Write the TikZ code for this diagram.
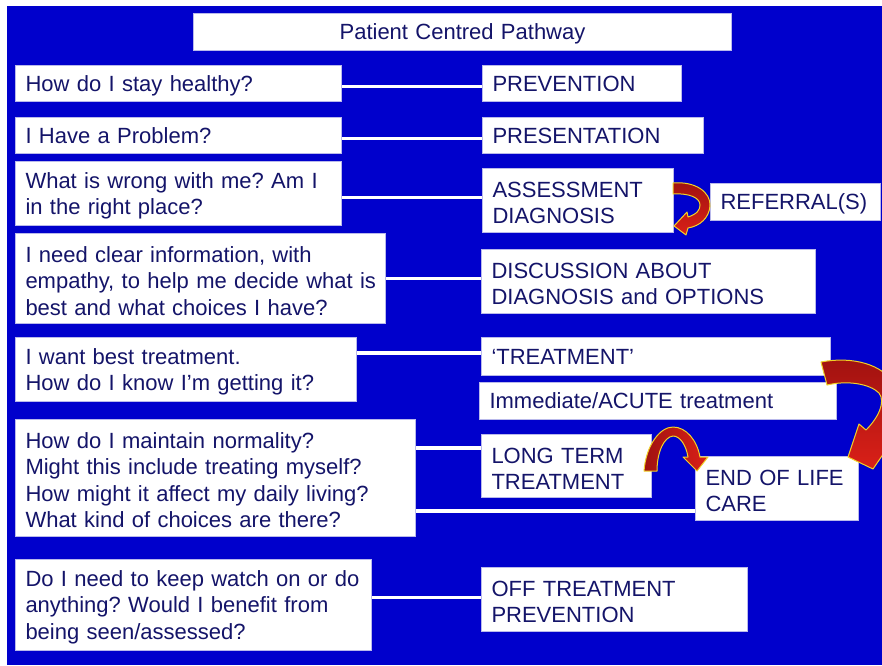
\documentclass[tikz,border=0pt]{standalone}
\usepackage{fontspec}
\setmainfont{Liberation Sans}
\frenchspacing
\definecolor{bgblue}{RGB}{0,0,204}
\definecolor{txt}{RGB}{20,20,105}
\definecolor{boxline}{RGB}{185,185,235}
\definecolor{ardark}{RGB}{160,18,16}
\definecolor{arlight}{RGB}{218,32,24}
\definecolor{aredge}{RGB}{240,210,40}
\newcommand\lowr{\rule{0pt}{20.5pt}}
\begin{document}
\begin{tikzpicture}[x=1pt,y=-1pt,
  box/.style={draw=boxline, line width=1pt, fill=white, text=txt,
    font=\fontsize{22}{26.5}\selectfont\frenchspacing, anchor=north west, align=left,
    inner xsep=10pt, inner ysep=2pt},
  one/.style={box, text depth=0pt},
  conn/.style={draw=white, line width=3.5pt},
  bigarrow/.style={draw=aredge, line width=1pt, line join=round}]
\useasboundingbox (0,0) rectangle (882,665);
\clip (0,0) rectangle (882,665);
\fill[bgblue] (7,6) rectangle (882,665);

% title
\node[one, align=center, text width=518pt, minimum height=37pt] (title) at (193,13) {Patient Centred Pathway};

% question boxes
\node[one, text width=306pt, minimum height=36pt] (q1) at (15,65) {How do I stay healthy?};
\node[one, text width=306pt, minimum height=36pt] (q2) at (15,117) {I Have a Problem?};
\node[box, text width=306pt, minimum height=64pt] (q3) at (15,161) {\lowr\mbox{What is wrong with me? Am I}\\\mbox{in the right place?}};
\node[box, text width=350pt, minimum height=90pt] (q4) at (15,233) {\lowr\mbox{I need clear information, with}\\\mbox{empathy, to help me decide what is}\\\mbox{best and what choices I have?}};
\node[box, text width=321pt, minimum height=64pt] (q5) at (15,337) {\lowr\mbox{I want best treatment.}\\\mbox{How do I know I'm getting it?}};
\node[box, text width=380pt, minimum height=117pt] (q6) at (15,419) {\lowr\mbox{How do I maintain normality?}\\\mbox{Might this include treating myself?}\\\mbox{How might it affect my daily living?}\\\mbox{What kind of choices are there?}};
\node[box, text width=336pt, minimum height=91pt] (q7) at (15,559) {\lowr\mbox{Do I need to keep watch on or do}\\\mbox{anything? Would I benefit from}\\\mbox{being seen/assessed?}};

% pathway boxes
\node[one, text width=179pt, minimum height=36pt] (p1) at (482,65) {PREVENTION};
\node[one, text width=201pt, minimum height=36pt] (p2) at (482,117) {PRESENTATION};
\node[box, text width=171pt, minimum height=64pt] (p3) at (482,168) {\lowr ASSESSMENT\\DIAGNOSIS};
\node[one, text width=150pt, minimum height=37pt] (ref) at (710,183) {REFERRAL(S)};
\node[box, text width=314pt, minimum height=64pt] (p4) at (481,249) {\lowr DISCUSSION ABOUT\\DIAGNOSIS and OPTIONS};
\node[one, text width=329pt, minimum height=38pt] (p5) at (481,337) {`TREATMENT'};
\node[one, text width=337pt, minimum height=37pt] (p6) at (479,382) {Immediate/ACUTE treatment};
\node[box, text width=150pt, minimum height=63pt] (p7) at (481,434) {\lowr LONG TERM\\TREATMENT};
\node[box, text width=143pt, minimum height=64pt] (eol) at (695,456) {\lowr END OF LIFE\\CARE};
\node[box, text width=246pt, minimum height=64pt] (p8) at (481,567) {\lowr OFF TREATMENT\\PREVENTION};

% connectors
\draw[conn] ([yshift=-3pt]q1.east) -- ([yshift=-3pt]q1.east -| p1.west);
\draw[conn] ([yshift=-3pt]q2.east) -- ([yshift=-3pt]q2.east -| p2.west);
\coordinate (c3) at ([yshift=-4pt]q3.east);
\draw[conn] (c3) -- (c3 -| p3.west);
\draw[conn] (q4.east) -- (q4.east -| p4.west);
\coordinate (c5) at ([yshift=3.5pt]p5.west);
\draw[conn] (c5 -| q5.east) -- (c5);
\coordinate (c6) at ([yshift=-14pt]p7.north west);
\draw[conn] (c6 -| q6.east) -- (c6);
\coordinate (c7) at ([yshift=10pt]eol.south west);
\draw[conn] (c7 -| q6.east) -- (c7);
\coordinate (c8) at ([yshift=2pt]p8.west);
\draw[conn] (c8 -| q7.east) -- (c8);

% curved arrows
\path[bigarrow, top color=ardark, bottom color=arlight]
  (673,183) .. controls (695,181) and (711,192) .. (710,206)
  .. controls (709,218) and (700,226) .. (688,228)
  -- (686,235) -- (674,226) -- (687,212) -- (688,217)
  .. controls (697,214) and (700,210) .. (700,205)
  .. controls (700,198) and (690,193) .. (673,194) -- cycle;

\path[bigarrow, top color=ardark, bottom color=arlight]
  (821,362) .. controls (852,356) and (883,364) .. (895,385)
  .. controls (905,405) and (898,435) .. (886,450)
  -- (873,469) -- (848,457) -- (859,424) -- (866,430)
  .. controls (878,418) and (886,402) .. (879,393)
  .. controls (870,384) and (848,380) .. (827,385) -- cycle;

\path[bigarrow, left color=ardark, right color=arlight]
  (644,471) .. controls (646,445) and (660,427) .. (673,427)
  .. controls (686,427) and (697,440) .. (700,457)
  -- (708,457) -- (697,471) -- (683,457) -- (688,457)
  .. controls (686,445) and (680,436) .. (673,436)
  .. controls (664,437) and (657,452) .. (657,471) -- cycle;
\end{tikzpicture}
\end{document}
